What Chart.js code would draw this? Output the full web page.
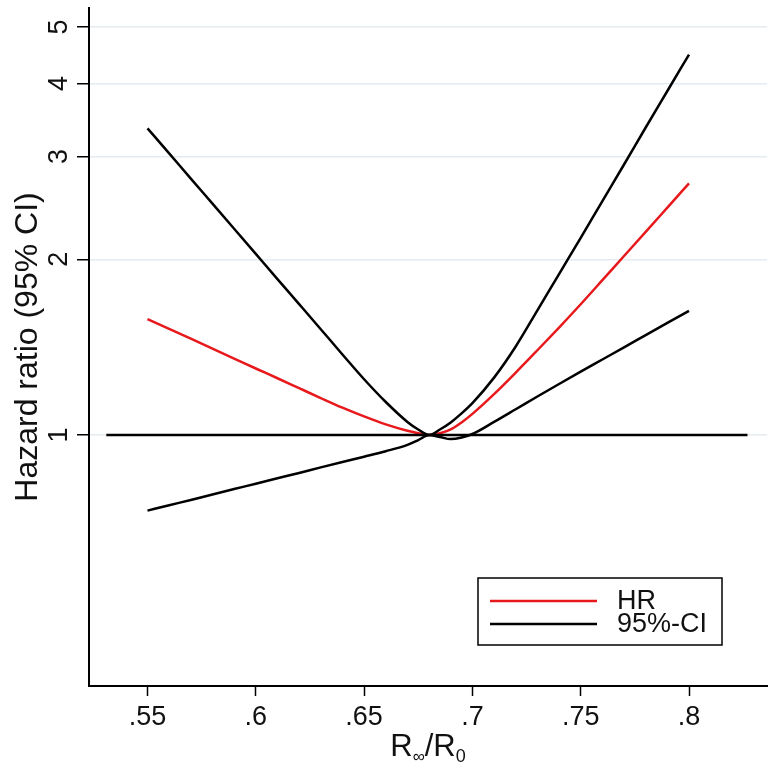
<!DOCTYPE html>
<html>
<head>
<meta charset="utf-8">
<title>Hazard ratio</title>
<script src="https://cdn.jsdelivr.net/npm/chart.js@4.4.1/dist/chart.umd.min.js"></script>
<style>
    body { margin: 0; background: #fff; }
    #hrChart { display: block; }
</style>
</head>
<body>
<canvas id="hrChart" width="778" height="772"></canvas>
<script>
// values
var ratioX = [0.55, 0.56, 0.57, 0.58, 0.59, 0.60, 0.61, 0.62, 0.63, 0.64, 0.65, 0.66, 0.67, 0.675, 0.68,
              0.685, 0.69, 0.695, 0.70, 0.71, 0.72, 0.73, 0.74, 0.75, 0.76, 0.77, 0.78, 0.79, 0.80];
var hazard = [1.580, 1.520, 1.462, 1.406, 1.352, 1.300, 1.251, 1.203, 1.157, 1.114, 1.076, 1.043, 1.017, 1.007, 1.000,
              1.007, 1.022, 1.051, 1.087, 1.175, 1.279, 1.397, 1.528, 1.675, 1.842, 2.026, 2.228, 2.452, 2.699];
var ciUpper = [3.353, 3.037, 2.750, 2.491, 2.256, 2.043, 1.850, 1.676, 1.518, 1.374, 1.246, 1.139, 1.053, 1.022, 1.000,
               1.022, 1.051, 1.089, 1.134, 1.254, 1.418, 1.635, 1.887, 2.177, 2.517, 2.907, 3.364, 3.885, 4.486];
var ciLower = [0.742, 0.758, 0.774, 0.791, 0.808, 0.825, 0.843, 0.861, 0.880, 0.899, 0.918, 0.938, 0.962, 0.980, 1.000,
               0.992, 0.984, 0.990, 1.004, 1.053, 1.107, 1.164, 1.223, 1.284, 1.347, 1.413, 1.483, 1.556, 1.632];
var refLineX = [0.531, 0.827];
var refLineY = [1, 1];
var xTicks = [0.55, 0.6, 0.65, 0.7, 0.75, 0.8];
var yTicks = [1, 2, 3, 4, 5];
var legendItems = [{ text: 'HR', color: '#e8191c' }, { text: '95%-CI', color: '#000000' }];

var fontFamily = '"Liberation Sans", Arial, sans-serif';

function toPoints(xs, ys) {
    return xs.map(function (x, i) { return { x: x, y: ys[i] }; });
}

// legend box drawn inside the plot, bottom right
var boxLegend = {
    id: 'boxLegend',
    afterDraw: function (chart) {
        var ctx = chart.ctx;
        var left = 478, top = 578, w = 244, h = 67;
        ctx.save();
        ctx.strokeStyle = '#000';
        ctx.lineWidth = 1.5;
        ctx.strokeRect(left, top, w, h);
        ctx.font = '27px ' + fontFamily;
        ctx.textBaseline = 'middle';
        legendItems.forEach(function (item, i) {
            var y = top + 23 + i * 23;
            ctx.strokeStyle = item.color;
            ctx.lineWidth = 2.5;
            ctx.beginPath();
            ctx.moveTo(left + 12, y);
            ctx.lineTo(left + 119, y);
            ctx.stroke();
            ctx.fillStyle = '#111';
            ctx.fillText(item.text, left + 139, y + 1);
        });
        ctx.restore();
    }
};

// x axis title with subscripts: R∞/R0
var xTitle = {
    id: 'xTitle',
    afterDraw: function (chart) {
        var ctx = chart.ctx;
        var area = chart.chartArea;
        var parts = [
            { t: 'R', size: 31, dy: 0 },
            { t: '\u221e', size: 17, dy: 6 },
            { t: '/R', size: 31, dy: 0 },
            { t: '0', size: 18, dy: 6 }
        ];
        ctx.save();
        ctx.fillStyle = '#111';
        ctx.textBaseline = 'alphabetic';
        var total = 0;
        parts.forEach(function (p) {
            ctx.font = p.size + 'px ' + fontFamily;
            p.w = ctx.measureText(p.t).width;
            total += p.w;
        });
        var x = (area.left + area.right) / 2 - total / 2;
        var base = 756;
        parts.forEach(function (p) {
            ctx.font = p.size + 'px ' + fontFamily;
            ctx.fillText(p.t, x, base + p.dy);
            x += p.w;
        });
        ctx.restore();
    }
};

var ctx = document.getElementById('hrChart').getContext('2d');
var hrChart = new Chart(ctx, {
    type: 'line',
    data: {
        datasets: [{
            label: 'ref',
            data: toPoints(refLineX, refLineY),
            borderColor: '#000',
            borderWidth: 2.5,
            pointRadius: 0
        }, {
            label: 'upper',
            data: toPoints(ratioX, ciUpper),
            borderColor: '#000',
            borderWidth: 2.5,
            pointRadius: 0,
            cubicInterpolationMode: 'monotone'
        }, {
            label: 'lower',
            data: toPoints(ratioX, ciLower),
            borderColor: '#000',
            borderWidth: 2.5,
            pointRadius: 0,
            cubicInterpolationMode: 'monotone'
        }, {
            label: 'HR',
            data: toPoints(ratioX, hazard),
            borderColor: '#e8191c',
            borderWidth: 2.5,
            pointRadius: 0,
            cubicInterpolationMode: 'monotone'
        }]
    },
    options: {
        responsive: false,
        animation: false,
        layout: { padding: { left: 0, right: 11, top: 8, bottom: 0 } },
        plugins: {
            legend: { display: false },
            tooltip: { enabled: false }
        },
        scales: {
            x: {
                type: 'linear',
                min: 0.523,
                max: 0.836,
                afterBuildTicks: function (scale) {
                    scale.ticks = xTicks.map(function (v) { return { value: v }; });
                },
                afterFit: function (scale) {
                    scale.height = 86;
                    scale.paddingLeft = 0;
                    scale.paddingRight = 0;
                },
                grid: {
                    drawOnChartArea: false,
                    drawTicks: true,
                    tickLength: 10,
                    tickColor: '#000',
                    tickWidth: 1.5
                },
                border: { display: true, color: '#000', width: 2 },
                ticks: {
                    padding: 5,
                    color: '#111',
                    maxRotation: 0,
                    font: { family: fontFamily, size: 27 },
                    callback: function (v) {
                        return v.toFixed(2).replace(/^0/, '').replace(/0$/, '');
                    }
                }
            },
            y: {
                type: 'logarithmic',
                min: 0.3715,
                max: 5.39,
                afterBuildTicks: function (scale) {
                    scale.ticks = yTicks.map(function (v) { return { value: v }; });
                },
                afterFit: function (scale) {
                    scale.width = 89;
                    scale.paddingTop = 0;
                    scale.paddingBottom = 0;
                },
                grid: {
                    color: '#e4ecef',
                    lineWidth: 1.5,
                    drawTicks: true,
                    tickLength: 12,
                    tickColor: '#000',
                    tickWidth: 1.5
                },
                border: { display: true, color: '#000', width: 2 },
                ticks: {
                    padding: 10,
                    color: '#111',
                    minRotation: 90,
                    maxRotation: 90,
                    crossAlign: 'center',
                    font: { family: fontFamily, size: 27 },
                    callback: function (v) { return String(v); }
                },
                title: {
                    display: true,
                    text: 'Hazard ratio (95% CI)',
                    color: '#111',
                    font: { family: fontFamily, size: 32 },
                    padding: { top: 9, bottom: 0 }
                }
            }
        }
    },
    plugins: [boxLegend, xTitle]
});
</script>
</body>
</html>
